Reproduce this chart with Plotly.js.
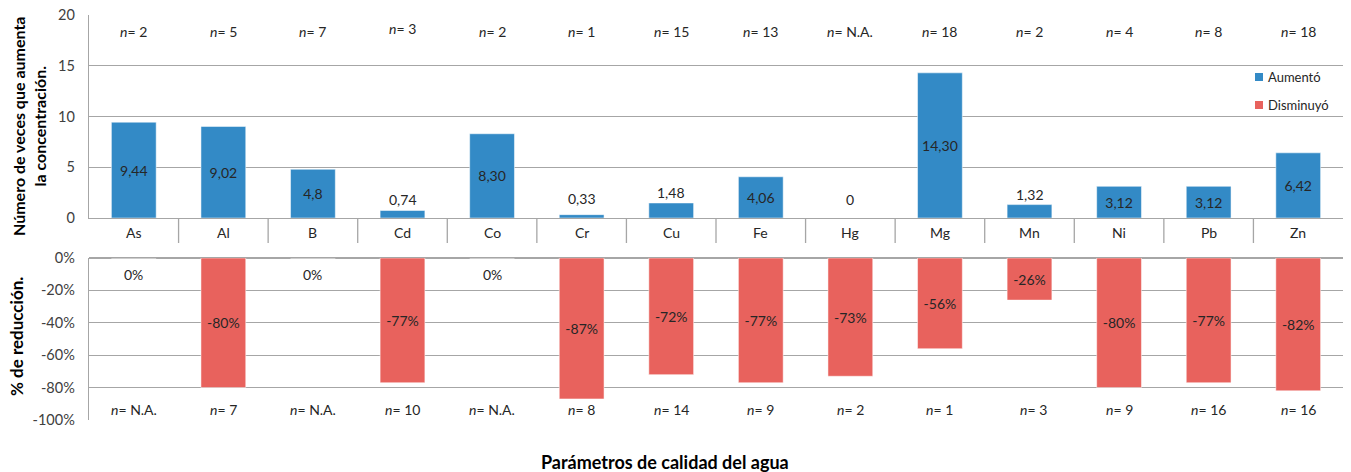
<!DOCTYPE html>
<html>
<head>
<meta charset="utf-8">
<script src="https://cdn.plot.ly/plotly-3.0.1.min.js"></script>
<style>html,body{margin:0;padding:0;background:#fff;}#chart{width:1351px;height:472px;}</style>
</head>
<body>
<div id="chart"></div>
<script>
// ---- data ----
const categories = ["As","Al","B","Cd","Co","Cr","Cu","Fe","Hg","Mg","Mn","Ni","Pb","Zn"];
const aumento = [9.44, 9.02, 4.8, 0.74, 8.30, 0.33, 1.48, 4.06, 0, 14.30, 1.32, 3.12, 3.12, 6.42];
const aumentoLabels = ["9,44","9,02","4,8","0,74","8,30","0,33","1,48","4,06","0","14,30","1,32","3,12","3,12","6,42"];
const disminuyo = [0, -80, 0, -77, 0, -87, -72, -77, -73, -56, -26, -80, -77, -82];
const nAumento = ["2","5","7","3","2","1","15","13","N.A.","18","2","4","8","18"];
const nDisminuyo = ["N.A.","7","N.A.","10","N.A.","8","14","9","2","1","3","9","16","16"];
const yTicks2 = [0, -20, -40, -60, -80, -100];
const yTickText2 = ["0%","-20%","-40%","-60%","-80%","-100%"];
const seriesNames = ["Aumentó", "Disminuyó"];

const FONT = "Lato, 'Open Sans', sans-serif";
const BLUE = "#338AC6";
const RED = "#E8625D";
const GRID = "#A6A6A6";
const TXT = "#262626";

// layout geometry (pixels → paper)
const W = 1351, H = 472, T = 15, B = 52, L = 89, R = 8;
const plotH = H - T - B, plotW = W - L - R;
const py = p => (H - B - p) / plotH;
const px = p => (p - L) / plotW;
const TOP0 = 218, TOP20 = 15;            // pixel rows of y=0 and y=20 in the upper panel
const pxPerUnit = (TOP0 - TOP20) / 20;

const insideTop = aumento.map(v => v >= 3);

const traces = [
  {
    type: "bar", name: seriesNames[0], x: categories, y: aumento,
    xaxis: "x", yaxis: "y", width: 0.5,
    marker: {color: BLUE, line: {color: "rgba(255,255,255,0.5)", width: 1}},
    text: aumentoLabels,
    textposition: insideTop.map(f => f ? "inside" : "none"),
    insidetextanchor: "middle", constraintext: "none", cliponaxis: false,
    textfont: {family: FONT, size: 14, color: TXT},
    hoverinfo: "x+y"
  },
  {
    type: "bar", name: seriesNames[1], x: categories, y: disminuyo,
    xaxis: "x2", yaxis: "y2", width: 0.5,
    marker: {color: RED, line: {color: "rgba(255,255,255,0.5)", width: 1}},
    text: disminuyo.map(v => v + "%"),
    textposition: disminuyo.map(v => v === 0 ? "none" : "inside"),
    insidetextanchor: "middle", constraintext: "none", cliponaxis: false,
    textfont: {family: FONT, size: 14, color: TXT},
    hoverinfo: "x+y"
  }
];

const annotations = [];
const small = {family: FONT, size: 14, color: TXT};
categories.forEach((c, i) => {
  annotations.push({x: c, xref: "x", y: py(232), yref: "paper", yanchor: "middle", text: c, showarrow: false,
    font: {family: FONT, size: 14, color: TXT}});
  annotations.push({x: c, xref: "x", y: c === "Cd" ? py(28) : py(31), yref: "paper", yanchor: "middle",
    text: "<i>n</i>= " + nAumento[i], showarrow: false, font: small});
  annotations.push({x: c, xref: "x", y: py(409), yref: "paper", yanchor: "middle", xshift: c === "Mn" ? 4 : 0,
    text: "<i>n</i>= " + nDisminuyo[i], showarrow: false, font: small});
  if (!insideTop[i]) {
    // outside label above small bars (Excel-like: never lower than a fixed row)
    const topPx = TOP0 - aumento[i] * pxPerUnit;
    const lblPx = Math.min(topPx - 10, 199);
    annotations.push({x: c, xref: "x", y: aumento[i], yref: "y", yanchor: "middle", yshift: topPx - lblPx,
      text: aumentoLabels[i], showarrow: false, font: {family: FONT, size: 14, color: TXT}});
  }
  if (disminuyo[i] === 0) {
    annotations.push({x: c, xref: "x2", y: disminuyo[i], yref: "y2", yanchor: "middle", yshift: -16,
      text: disminuyo[i] + "%", showarrow: false, font: {family: FONT, size: 14, color: TXT}});
  }
});
// axis titles
annotations.push({xref: "paper", yref: "paper", x: px(29), y: py(127), xanchor: "center", yanchor: "middle", textangle: -90,
  text: "<b>Número de veces que aumenta<br>la concentración.</b>", showarrow: false,
  font: {family: FONT, size: 16, color: "#000"}});
annotations.push({xref: "paper", yref: "paper", x: px(16), y: py(337), xanchor: "center", yanchor: "middle", textangle: -90,
  text: "<b>% de reducción.</b>", showarrow: false, font: {family: FONT, size: 17, color: "#000"}});
annotations.push({xref: "paper", yref: "paper", x: px(665), y: py(462), xanchor: "center", yanchor: "middle",
  text: "<b>Parámetros de calidad del agua</b>", showarrow: false, font: {family: FONT, size: 18, color: "#000"}});

const shapes = [];
for (let i = 0; i < categories.length - 1; i++) {
  shapes.push({type: "line", xref: "x", yref: "paper", x0: i + 0.5, x1: i + 0.5,
    y0: py(218), y1: py(243), line: {color: GRID, width: 1.3}});
}
// legend (manual, to match small square keys)
[[BLUE, 77], [RED, 105]].forEach(([col, yc], k) => {
  shapes.push({type: "rect", xref: "paper", yref: "paper", x0: px(1255), x1: px(1263),
    y0: py(yc + 4), y1: py(yc - 4), fillcolor: col, line: {width: 0}});
  annotations.push({xref: "paper", yref: "paper", x: px(1266), y: py(yc), xanchor: "left", yanchor: "middle",
    text: seriesNames[k], showarrow: false, font: {family: FONT, size: 13, color: TXT}});
});

const layout = {
  width: W, height: H,
  margin: {l: L, r: R, t: T, b: B},
  paper_bgcolor: "#fff", plot_bgcolor: "#fff",
  font: {family: FONT, size: 14, color: TXT},
  showlegend: false,
  xaxis: {domain: [0, 1], range: [-0.5, 13.5], type: "category", anchor: "y",
    showticklabels: false, showgrid: false, zeroline: false, ticks: "",
    showline: true, linecolor: GRID, linewidth: 1.3},
  yaxis: {domain: [py(TOP0), 1], range: [0, 20], dtick: 5, anchor: "x",
    showgrid: true, gridcolor: GRID, gridwidth: 1.3, zeroline: false,
    showline: true, linecolor: GRID, linewidth: 1.3,
    ticks: "outside", ticklen: 10, tickcolor: "rgba(0,0,0,0)",
    tickfont: {family: FONT, size: 14.5, color: "#404040"}},
  xaxis2: {domain: [0, 1], range: [-0.5, 13.5], type: "category", anchor: "y2",
    showticklabels: false, showgrid: false, zeroline: false, ticks: "", showline: false},
  yaxis2: {domain: [0, py(258)], range: [-100, 0], anchor: "x2",
    tickvals: yTicks2, ticktext: yTickText2,
    showgrid: true, gridcolor: GRID, gridwidth: 1.3,
    zeroline: true, zerolinecolor: GRID, zerolinewidth: 1.3,
    showline: true, linecolor: GRID, linewidth: 1.3,
    ticks: "outside", ticklen: 10, tickcolor: "rgba(0,0,0,0)",
    tickfont: {family: FONT, size: 14.5, color: "#404040"}},
  annotations: annotations,
  shapes: shapes
};

Plotly.newPlot("chart", traces, layout, {displayModeBar: false, staticPlot: true});
</script>
</body>
</html>
